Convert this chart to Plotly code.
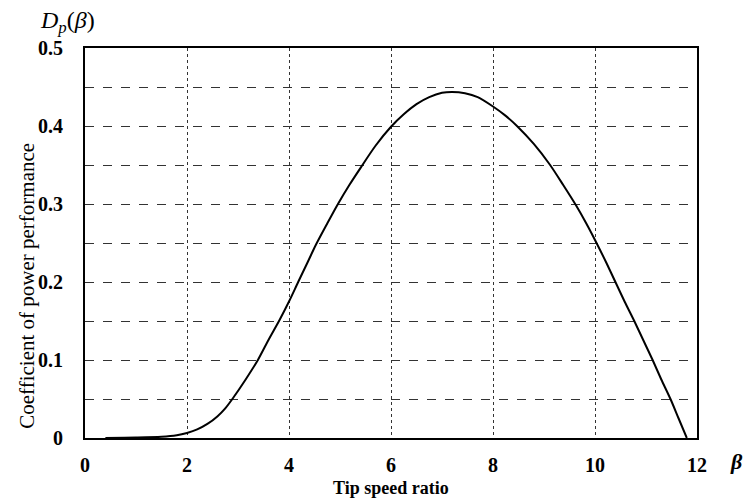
import plotly.graph_objects as go

# Data (tip speed ratio vs power coefficient)
tsr = [0.4, 1.0, 1.5, 1.8, 2.0, 2.2, 2.4, 2.6, 2.75, 2.9, 3.15, 3.39, 3.6, 3.82,
       4.0, 4.18, 4.37, 4.53, 4.75, 4.96, 5.18, 5.41, 5.7, 6.0, 6.25, 6.5, 6.75, 7.0,
       7.2, 7.45, 7.7, 8.0, 8.25, 8.47, 8.8, 9.12, 9.38, 9.63, 9.83, 10.03, 10.22, 10.40,
       10.58, 10.77, 10.95, 11.13, 11.3, 11.48, 11.64, 11.8]
cp = [0.0, 0.0005, 0.0015, 0.0035, 0.0065, 0.011, 0.018, 0.028, 0.038, 0.051, 0.075, 0.10,
      0.126, 0.152, 0.175, 0.20, 0.226, 0.248, 0.275, 0.30, 0.324, 0.347, 0.375, 0.399,
      0.415, 0.428, 0.437, 0.4425, 0.4436, 0.442, 0.437, 0.425, 0.413, 0.40, 0.377, 0.35,
      0.324, 0.298, 0.275, 0.25, 0.225, 0.20, 0.175, 0.15, 0.125, 0.10, 0.075, 0.05, 0.025, 0.0]

x_ticks = [0, 2, 4, 6, 8, 10, 12]
y_ticks = [0, 0.1, 0.2, 0.3, 0.4, 0.5]
y_ticklabels = ["0", "0.1", "0.2", "0.3", "0.4", "0.5"]

FONT = "Liberation Serif"

fig = go.Figure()
fig.add_trace(go.Scatter(x=tsr, y=cp, mode="lines",
                         line=dict(color="black", width=2, shape="spline", smoothing=0.8),
                         showlegend=False, hoverinfo="skip"))

fig.update_layout(
    width=744, height=498,
    margin=dict(l=85, r=47, t=48, b=60),
    paper_bgcolor="white", plot_bgcolor="white",
    font=dict(family=FONT, color="black"),
    xaxis=dict(range=[0, 12], tickvals=x_ticks, ticktext=[str(v) for v in x_ticks],
               showgrid=True, gridcolor="#333", griddash="dot", gridwidth=1,
               showline=True, linecolor="black", linewidth=2, mirror=True,
               zeroline=False, ticks="", ticklabelstandoff=8,
               tickfont=dict(family=FONT, size=20, weight="bold", color="black")),
    yaxis=dict(range=[0, 0.5], tickvals=y_ticks, ticktext=y_ticklabels,
               showgrid=True, gridcolor="#333", griddash="dash", gridwidth=1,
               minor=dict(dtick=0.05, tick0=0, showgrid=True, gridcolor="#333", griddash="dash", gridwidth=1),
               showline=True, linecolor="black", linewidth=2, mirror=True,
               zeroline=False, ticks="", ticklabelstandoff=16,
               tickfont=dict(family=FONT, size=20, weight="bold", color="black")),
)

fig.add_annotation(xref="paper", yref="paper", x=-0.095, y=0.39, xanchor="center", yanchor="middle",
                   text="Coefficient of power performance", textangle=-90, showarrow=False,
                   font=dict(family=FONT, size=21, color="black"))
fig.add_annotation(xref="paper", yref="paper", x=0.5, y=-0.127, xanchor="center", yanchor="middle",
                   text="<b>Tip speed ratio</b>", showarrow=False,
                   font=dict(family=FONT, size=18, color="black"))
fig.add_annotation(xref="paper", yref="paper", x=1.065, y=-0.06, xanchor="center", yanchor="middle",
                   text="<b><i>β</i></b>", showarrow=False,
                   font=dict(family=FONT, size=22, color="black"))
fig.add_annotation(xref="paper", yref="paper", x=-0.028, y=1.067, xanchor="center", yanchor="middle",
                   text="<i>D<sub>p</sub></i>(<i>β</i>)", showarrow=False,
                   font=dict(family=FONT, size=24, color="black"))

fig.write_html("out.html")
